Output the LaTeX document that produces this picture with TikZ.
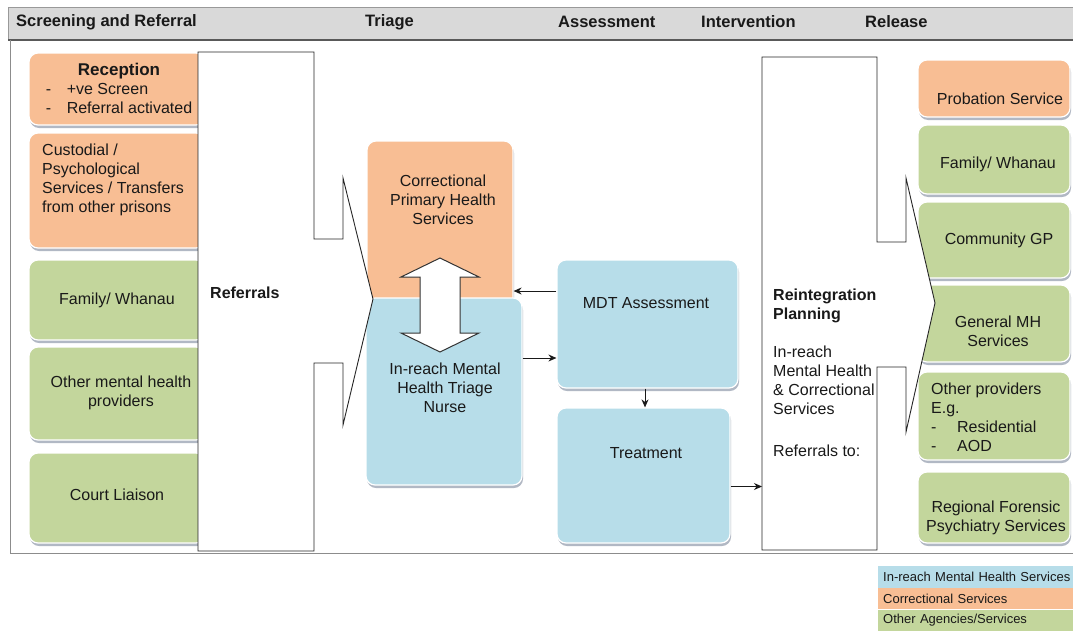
\documentclass[tikz,border=0pt]{standalone}
\usepackage{fontspec}
\setmainfont{Liberation Sans}
\usetikzlibrary{arrows.meta,shadows}

\definecolor{corrfill}{HTML}{F8BE94}
\definecolor{mhfill}{HTML}{B7DDE9}
\definecolor{agencyfill}{HTML}{C3D69C}
\definecolor{hdrfill}{HTML}{D9D9D9}
\definecolor{shadowgray}{HTML}{9EA6B5}

\begin{document}
\begin{tikzpicture}[
        x=1pt, y=-1pt,
        font=\fontsize{16}{19}\selectfont,
        sz/.style 2 args={minimum width=#1pt, minimum height=#2pt},
        box/.style={rounded corners=9pt, draw=white, line width=1.2pt, inner sep=0pt,
            drop shadow={shadow xshift=1pt, shadow yshift=-3pt, fill=shadowgray, opacity=0.8}},
        corr/.style={box, fill=corrfill},
        mh/.style={box, fill=mhfill},
        agency/.style={box, fill=agencyfill},
        txt/.style={text=black!90, align=center, inner sep=0pt},
        phase/.style={font=\fontsize{16.5}{19}\selectfont\bfseries, text=black!90, anchor=west, inner sep=0pt},
        block/.style={draw=black!85, fill=white, line width=0.9pt},
        dblarrow/.style={draw=black!80, fill=white, line width=1pt, line join=miter},
        arrow/.style={-{Stealth[length=8pt, width=7pt]}, line width=0.9pt, black!90},
        key/.style={anchor=west, text width=192pt, align=left, inner xsep=5pt, inner ysep=0pt,
            minimum height=21.5pt, font=\fontsize{13}{15}\selectfont, text=black!90}
    ]
    \useasboundingbox (0,0) rectangle (1073,632);

    % Phase header
    \fill[hdrfill] (8,8) rectangle (1073,40);
    \draw[black!40] (8,40) -- (8,7.5) -- (1073,7.5);
    \draw[black!65, line width=1.3pt] (8,40) -- (1073,40);
    \node[phase] (ph-screen) at (16,22) {Screening and Referral};
    \node[phase] (ph-triage) at (365,22) {Triage};
    \node[phase] (ph-assess) at (558,22) {Assessment};
    \node[phase] (ph-interv) at (701,22) {Intervention};
    \node[phase] (ph-release) at (865,22) {Release};

    % Frame
    \draw[black!45] (10.5,40) -- (10.5,553) -- (1073,553);

    % Referral sources
    \node[corr, sz={176}{72}] (rec) at (117,89) {};
    \node[txt] (rec-t) at (119,91) {\begin{tabular}{@{}p{21pt}@{}l@{}}
        \multicolumn{2}{@{}c@{}}{\fontsize{17}{19}\selectfont\bfseries Reception}\\
        - & +ve Screen\\
        - & Referral activated
    \end{tabular}};
    \node[corr, sz={176}{115}] (cust) at (117,190.5) {};
    \node[txt, align=left, anchor=west] (cust-t) at (42,180) {Custodial /\\Psychological\\Services / Transfers\\from other prisons};
    \node[agency, sz={176}{80}] (fam) at (117,300) {};
    \node[txt] (fam-t) at (117,300) {Family/ Whanau};
    \node[agency, sz={176}{93}] (omh) at (117,393.5) {};
    \node[txt] (omh-t) at (121,393) {Other mental health\\providers};
    \node[agency, sz={176}{90}] (court) at (117,498) {};
    \node[txt] (court-t) at (117,495) {Court Liaison};

    % Triage
    \node[corr, sz={146}{169}] (cph) at (440,225.5) {};
    \node[txt] (cph-t) at (443,200) {Correctional\\Primary Health\\Services};
    \node[mh, sz={156}{187}] (irn) at (444,391.5) {};
    \node[txt] (irn-t) at (445,388) {In-reach Mental\\Health Triage\\Nurse};
    \draw[dblarrow] (440,258) -- (479,277) -- (460,277) -- (460,333) -- (479,333) -- (440,352)
        -- (401,333) -- (420,333) -- (420,277) -- (401,277) -- cycle;

    % Referrals block arrow
    \draw[block] (198,52) -- (314,52) -- (314,239) -- (343,239) -- (343,178) -- (373,299)
        -- (343,425) -- (343,363) -- (314,363) -- (314,551) -- (198,551) -- cycle;
    \node[txt, anchor=west, font=\fontsize{16}{19}\selectfont\bfseries] (ref-t) at (210,293) {Referrals};

    % Assessment and intervention
    \node[mh, sz={181}{128}] (mdt) at (647.5,324) {};
    \node[txt] (mdt-t) at (646,303) {MDT Assessment};
    \node[mh, sz={173}{135}] (trt) at (643.5,475.5) {};
    \node[txt] (trt-t) at (646,453) {Treatment};

    % Release services
    \node[corr, sz={152}{57}] (prob) at (994,88.5) {};
    \node[txt] (prob-t) at (1000,99) {Probation Service};
    \node[agency, sz={152}{69}] (rfam) at (994,159.5) {};
    \node[txt] (rfam-t) at (998,164) {Family/ Whanau};
    \node[agency, sz={152}{76}] (gp) at (994,240) {};
    \node[txt] (gp-t) at (999,240) {Community GP};
    \node[agency, sz={152}{77}] (gmh) at (994,323.5) {};
    \node[txt] (gmh-t) at (998,331) {General MH\\Services};
    \node[agency, sz={152}{88}] (oth) at (994,416) {};
    \node[txt, anchor=west] (oth-t) at (931,419) {\begin{tabular}{@{}p{26pt}@{}l@{}}
        \multicolumn{2}{@{}l@{}}{Other providers}\\
        \multicolumn{2}{@{}l@{}}{E.g.}\\
        - & Residential\\
        - & AOD
    \end{tabular}};
    \node[agency, sz={152}{71}] (rfp) at (994,507.5) {};
    \node[txt] (rfp-t) at (996,518) {Regional Forensic\\Psychiatry Services};

    % Reintegration block arrow
    \draw[block] (762,57) -- (877,57) -- (877,242) -- (906,242) -- (906,178) -- (935,303)
        -- (906,432) -- (906,367) -- (877,367) -- (877,550) -- (762,550) -- cycle;
    \coordinate (reint) at (762,303);
    \node[txt, align=left, anchor=north west] (reint-t) at (773,289) {\textbf{Reintegration}\\\textbf{Planning}\\[19pt]
        In-reach\\Mental Health\\\& Correctional\\Services\\[23pt]Referrals to:};

    % Flow arrows
    \draw[arrow] ([yshift=33pt]mdt.west) -- ([yshift=33pt]mdt.west -| cph.east);
    \draw[arrow] ([yshift=33.5pt]irn.east) -- ([yshift=33.5pt]irn.east -| mdt.west);
    \draw[arrow] (mdt.south -| 645,0) -- (trt.north -| 645,0);
    \draw[arrow] ([yshift=-11pt]trt.east) -- ([yshift=-11pt]trt.east -| reint);

    % Legend
    \node[key, fill=mhfill] (key-mh) at (878,577) {In-reach Mental Health Services};
    \node[key, fill=corrfill] (key-corr) at (878,598.5) {Correctional Services};
    \node[key, fill=agencyfill] (key-agency) at (878,620.5) {Other Agencies/Services};

\end{tikzpicture}
\end{document}
